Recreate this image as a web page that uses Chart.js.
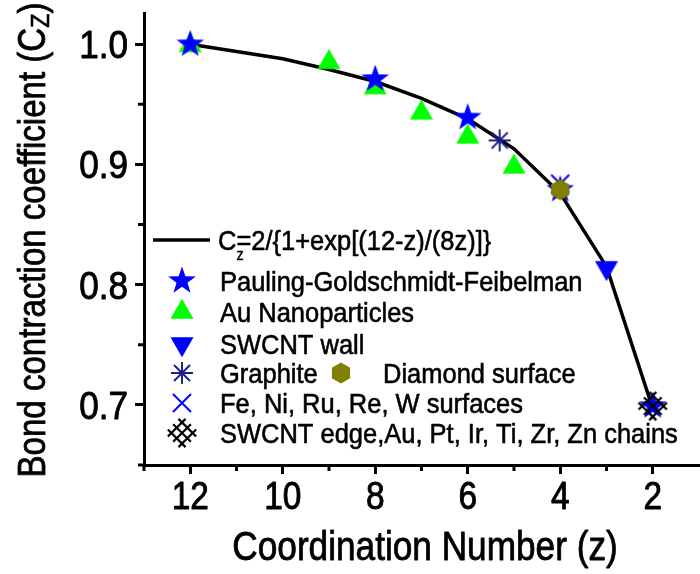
<!DOCTYPE html>
<html>
<head>
<meta charset="utf-8">
<script src="https://cdn.jsdelivr.net/npm/chart.js@4.4.1/dist/chart.umd.min.js"></script>
<style>
html, body { margin: 0; padding: 0; background: #fff; overflow: hidden; }
#wrap { width: 710px; height: 574px; }
</style>
</head>
<body>
<div id="wrap"><canvas id="chart" width="710" height="574"></canvas></div>
<script>
// model curve, read at integer z
const zLine = [12, 11, 10, 9, 8, 7, 6, 5, 4, 3, 2];
const cLine = [1.000, 0.994, 0.988, 0.979, 0.969, 0.955, 0.938, 0.913, 0.876, 0.815, 0.697];

// measured points
const paulingZ = [12, 8, 6, 4, 2];
const paulingC = [1.0, 0.971, 0.939, 0.879, 0.699];
const auZ = [12, 9, 8, 7, 6, 5];
const auC = [0.999, 0.985, 0.964, 0.943, 0.923, 0.898];
const wallZ = [3];
const wallC = [0.814];
const graphiteZ = [5.31];
const graphiteC = [0.920];
const diamondZ = [4];
const diamondC = [0.879];
const surfZ = [4];
const surfC = [0.884];
const edgeZ = [2];
const edgeC = [0.699];

const xTicks = [12, 10, 8, 6, 4, 2];
const xMinor = [13, 11, 9, 7, 5, 3];
const yTicks = [0.7, 0.8, 0.9, 1.0];
const yMinor = [0.65, 0.75, 0.85, 0.95];

const FONT = '"Liberation Sans", Arial, sans-serif';

function pts(xs, ys) {
    return xs.map((x, i) => ({ x: x, y: ys[i] }));
}

// small canvases used as point styles
function marker(draw) {
    const c = document.createElement('canvas');
    c.width = 36; c.height = 36;
    const g = c.getContext('2d');
    g.translate(18, 18);
    draw(g);
    return c;
}

const starImg = marker(g => {
    g.beginPath();
    for (let i = 0; i < 10; i++) {
        const r = i % 2 ? 5.8 : 14.5;
        const a = -Math.PI / 2 + i * Math.PI / 5;
        g.lineTo(r * Math.cos(a), r * Math.sin(a));
    }
    g.closePath();
    g.fillStyle = '#0000ff';
    g.fill();
});

function triangle(g, dir, color) {
    const r = 13.3;
    g.beginPath();
    g.moveTo(0, -r * dir);
    g.lineTo(r * 0.866, r * 0.5 * dir);
    g.lineTo(-r * 0.866, r * 0.5 * dir);
    g.closePath();
    g.fillStyle = color;
    g.fill();
}
const upImg = marker(g => triangle(g, 1, '#00ff00'));
const downImg = marker(g => triangle(g, -1, '#0000ff'));

const hexImg = marker(g => {
    g.beginPath();
    for (let i = 0; i < 6; i++) {
        const a = -Math.PI / 2 + i * Math.PI / 3;
        g.lineTo(10.5 * Math.cos(a), 10.5 * Math.sin(a));
    }
    g.closePath();
    g.fillStyle = '#808000';
    g.fill();
});

const crossImg = marker(g => {
    g.strokeStyle = '#0000ff';
    g.lineWidth = 2;
    g.beginPath();
    g.moveTo(-9, -9); g.lineTo(9, 9);
    g.moveTo(9, -9); g.lineTo(-9, 9);
    g.stroke();
});

const asteriskImg = marker(g => {
    g.strokeStyle = '#1c1c8a';
    g.lineWidth = 1.9;
    g.beginPath();
    g.moveTo(-11, 0); g.lineTo(11, 0);
    g.moveTo(0, -11); g.lineTo(0, 11);
    g.moveTo(-8, -8); g.lineTo(8, 8);
    g.moveTo(8, -8); g.lineTo(-8, 8);
    g.stroke();
});

const edgeImg = marker(g => {
    g.rotate(Math.PI / 4);
    g.strokeStyle = '#000';
    g.lineWidth = 2.2;
    g.beginPath();
    [-7.5, 0, 7.5].forEach(o => {
        g.moveTo(o, -12.5); g.lineTo(o, 12.5);
        g.moveTo(-12.5, o); g.lineTo(12.5, o);
    });
    g.stroke();
});

function scatterSet(label, xs, ys, img, order) {
    return {
        label: label,
        data: pts(xs, ys),
        pointStyle: img,
        pointRadius: 10,
        showLine: false,
        order: order
    };
}

const legendRows = [
    { img: starImg, text: 'Pauling-Goldschmidt-Feibelman', y: 281 },
    { img: upImg, text: 'Au Nanoparticles', y: 312 },
    { img: downImg, text: 'SWCNT wall', y: 344 },
    { img: asteriskImg, text: 'Graphite', y: 373 },
    { img: crossImg, text: 'Fe, Ni, Ru, Re, W surfaces', y: 403 },
    { img: edgeImg, text: 'SWCNT edge,Au, Pt, Ir, Ti, Zr, Zn chains', y: 433 }
];

// text squeezed horizontally and slightly heavier, like the original figure
function txt(ctx, s, x, y, size, sx, align, weight) {
    ctx.save();
    ctx.translate(x, y);
    ctx.scale(sx, 1);
    ctx.font = size + 'px ' + FONT;
    ctx.textAlign = align;
    ctx.fillText(s, 0, 0);
    if (weight) {
        ctx.lineWidth = weight;
        ctx.strokeText(s, 0, 0);
    }
    const w = ctx.measureText(s).width * sx;
    ctx.restore();
    return w;
}

function textWidth(ctx, s, size, sx) {
    ctx.save();
    ctx.font = size + 'px ' + FONT;
    const w = ctx.measureText(s).width * sx;
    ctx.restore();
    return w;
}

const decor = {
    id: 'decor',
    afterDraw(chart) {
        const ctx = chart.ctx;
        const xs = chart.scales.x;
        const ys = chart.scales.y;
        const area = chart.chartArea;
        ctx.save();
        ctx.strokeStyle = '#000';
        ctx.fillStyle = '#000';
        ctx.lineWidth = 3;
        ctx.beginPath();
        xMinor.forEach(v => {
            const px = xs.getPixelForValue(v);
            ctx.moveTo(px, area.bottom);
            ctx.lineTo(px, area.bottom + 6);
        });
        yMinor.forEach(v => {
            const py = ys.getPixelForValue(v);
            ctx.moveTo(area.left, py);
            ctx.lineTo(area.left - 6, py);
        });
        ctx.stroke();

        ctx.textBaseline = 'alphabetic';
        ctx.lineJoin = 'round';

        // tick labels
        yTicks.forEach(v => txt(ctx, v.toFixed(1), 128, ys.getPixelForValue(v) + 14, 39, 0.9, 'right', 0.9));
        xTicks.forEach(v => txt(ctx, String(v), xs.getPixelForValue(v), 509, 38, 0.88, 'center', 0.9));

        // axis titles
        txt(ctx, 'Coordination Number (z)', 425, 560, 40, 0.88, 'center', 0.8);

        ctx.save();
        ctx.translate(45, 240);
        ctx.rotate(-Math.PI / 2);
        const s1 = 'Bond contraction coefficient (C';
        const w1 = textWidth(ctx, s1, 38, 0.87);
        const w2 = textWidth(ctx, 'Z', 26, 0.9);
        const w3 = textWidth(ctx, ')', 38, 0.87);
        const x0 = -(w1 + w2 + w3) / 2;
        txt(ctx, s1, x0, 0, 38, 0.87, 'left', 0.8);
        txt(ctx, 'Z', x0 + w1, 4, 26, 0.9, 'left', 0.6);
        txt(ctx, ')', x0 + w1 + w2, 0, 38, 0.87, 'left', 0.8);
        ctx.restore();

        // legend
        ctx.lineWidth = 3.5;
        ctx.beginPath();
        ctx.moveTo(153, 240);
        ctx.lineTo(210, 240);
        ctx.stroke();
        const cw = txt(ctx, 'C', 218, 250, 28, 0.91, 'left', 0.6);
        txt(ctx, '=2/{1+exp[(12-z)/(8z)]}', 218 + cw, 250, 28, 0.91, 'left', 0.6);
        txt(ctx, 'z', 218 + cw, 260, 16, 0.9, 'left', 0.4);
        legendRows.forEach(r => {
            ctx.drawImage(r.img, 182 - 18, r.y - 18);
            txt(ctx, r.text, 220, r.y + 10, 28, 0.91, 'left', 0.6);
        });
        ctx.drawImage(hexImg, 341 - 18, 373 - 18);
        txt(ctx, 'Diamond surface', 383, 373 + 10, 28, 0.91, 'left', 0.6);
        ctx.restore();
    }
};

new Chart(document.getElementById('chart'), {
    type: 'scatter',
    data: {
        datasets: [
            {
                label: 'Cz model',
                data: pts(zLine, cLine),
                showLine: true,
                borderColor: '#000',
                borderWidth: 3.5,
                pointRadius: 0,
                tension: 0,
                order: 9
            },
            scatterSet('SWCNT edge, chains', edgeZ, edgeC, edgeImg, 0),
            scatterSet('Diamond surface', diamondZ, diamondC, hexImg, 1),
            scatterSet('Pauling-Goldschmidt-Feibelman', paulingZ, paulingC, starImg, 2),
            scatterSet('Fe, Ni, Ru, Re, W surfaces', surfZ, surfC, crossImg, 3),
            scatterSet('Graphite', graphiteZ, graphiteC, asteriskImg, 4),
            scatterSet('SWCNT wall', wallZ, wallC, downImg, 5),
            scatterSet('Au Nanoparticles', auZ, auC, upImg, 6)
        ]
    },
    options: {
        responsive: false,
        animation: false,
        events: [],
        layout: { padding: { top: 13, right: 8, left: 0, bottom: 0 } },
        plugins: { legend: { display: false }, tooltip: { enabled: false } },
        scales: {
            x: {
                type: 'linear',
                reverse: true,
                min: 1,
                max: 13,
                afterBuildTicks: s => { s.ticks = xTicks.map(v => ({ value: v })); },
                afterFit: s => { s.height = 109; },
                ticks: { display: false },
                grid: { display: true, drawOnChartArea: false, drawTicks: true, tickLength: 9, tickWidth: 3, tickColor: '#000' },
                border: { display: true, width: 3, color: '#000' }
            },
            y: {
                type: 'linear',
                min: 0.65,
                max: 1.026,
                afterBuildTicks: s => { s.ticks = yTicks.map(v => ({ value: v })); },
                afterFit: s => { s.width = 144; },
                ticks: { display: false },
                grid: { display: true, drawOnChartArea: false, drawTicks: true, tickLength: 9, tickWidth: 3, tickColor: '#000' },
                border: { display: true, width: 3, color: '#000' }
            }
        }
    },
    plugins: [decor]
});
</script>
</body>
</html>
